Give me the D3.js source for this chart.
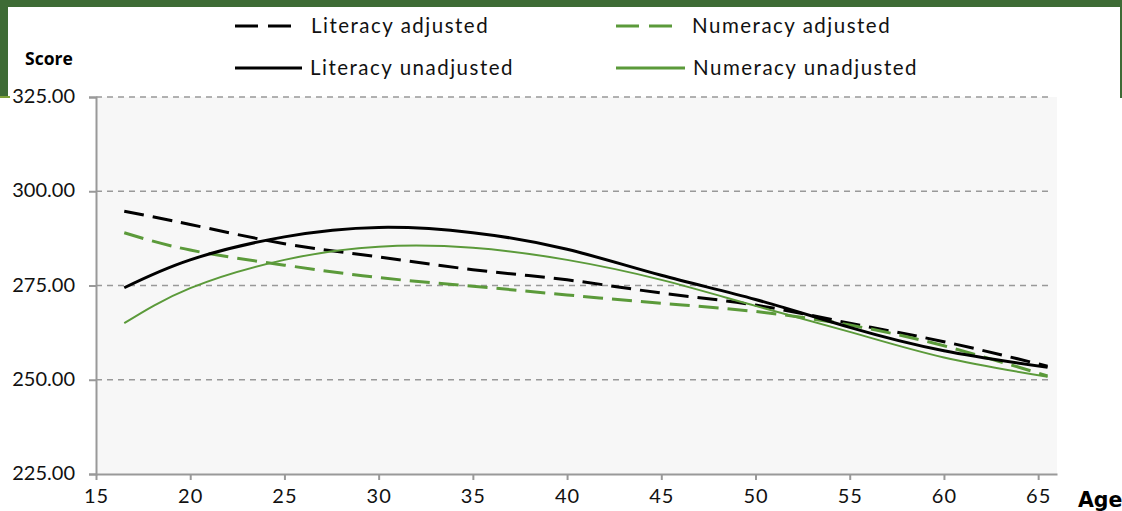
<!DOCTYPE html>
<html>
<head>
<meta charset="utf-8">
<script src="https://cdn.jsdelivr.net/npm/d3@7"></script>
<style>
  body { margin: 0; background: #fff; }
  svg { display: block; }
</style>
</head>
<body>
<svg id="chart" width="1122" height="511"></svg>
<script>
// ages as plotted (first / last point sit half a year inside the tick)
let ages = [16.5, 20, 25, 30, 35, 40, 45, 50, 55, 60, 65.5]

let literacyAdjusted   = [294.7, 291.2, 286.1, 282.6, 279.2, 276.5, 273.0, 269.8, 265.0, 260.1, 253.6]
let literacyUnadjusted = [274.4, 281.8, 287.9, 290.4, 289.0, 284.6, 277.7, 271.3, 263.9, 257.7, 253.3]
let numeracyAdjusted   = [289.0, 284.4, 280.4, 277.1, 274.8, 272.5, 270.3, 268.1, 264.5, 259.0, 251.0]
let numeracyUnadjusted = [265.0, 274.3, 281.8, 285.3, 285.0, 281.8, 276.5, 269.6, 262.7, 255.9, 250.8]

let xTicks = [15, 20, 25, 30, 35, 40, 45, 50, 55, 60, 65]
let yTicks = [225, 250, 275, 300, 325]

let seriesNames = ["Literacy adjusted", "Numeracy adjusted", "Literacy unadjusted", "Numeracy unadjusted"]

const GREEN = "#5b9a3a"
const FRAME = "#3e6b35"

let series = [
    {name: seriesNames[0], values: literacyAdjusted, color: "#000", width: 3, dash: "20,9"},
    {name: seriesNames[1], values: numeracyAdjusted, color: GREEN, width: 3, dash: "20,9"},
    {name: seriesNames[2], values: literacyUnadjusted, color: "#000", width: 3, dash: null},
    {name: seriesNames[3], values: numeracyUnadjusted, color: GREEN, width: 2, dash: null}
]

let svg = d3.select("#chart")

// frame bits at the top
svg.append("rect").attr("x", 0).attr("y", 0).attr("width", 1122).attr("height", 7).attr("fill", FRAME)
svg.append("rect").attr("x", 0).attr("y", 0).attr("width", 8).attr("height", 97).attr("fill", FRAME)
svg.append("rect").attr("x", 1120).attr("y", 0).attr("width", 2).attr("height", 98).attr("fill", FRAME)
svg.append("rect").attr("x", 0).attr("y", 96).attr("width", 10).attr("height", 2).attr("fill", "#7fa23a")

let plotLeft = 96, plotRight = 1057, plotTop = 97, plotBottom = 474

let x = d3.scaleLinear([15, 66], [plotLeft, plotRight])
let y = d3.scaleLinear([225, 325], [plotBottom, plotTop])

svg.append("rect")
    .attr("x", plotLeft).attr("y", plotTop)
    .attr("width", plotRight - plotLeft).attr("height", plotBottom - plotTop)
    .attr("fill", "#f7f7f7")

// gridlines
svg.selectAll(".grid")
    .data(yTicks.filter(d => d > 225))
    .enter()
    .append("line")
    .attr("x1", plotLeft).attr("x2", plotRight - 6)
    .attr("y1", d => y(d)).attr("y2", d => y(d))
    .attr("stroke", "#999")
    .attr("stroke-width", 1.5)
    .attr("stroke-dasharray", "6,5")

let tickFont = "Lato, 'Open Sans', sans-serif"

let yAxis = svg.append("g")
    .attr("transform", `translate(${plotLeft},0)`)
    .call(d3.axisLeft(y).tickValues(yTicks).tickSize(7).tickPadding(14).tickFormat(d3.format(".2f")))
yAxis.select(".domain").attr("stroke", "#999").attr("stroke-width", 2)
yAxis.selectAll(".tick line").attr("stroke", "#999").attr("stroke-width", 2)
yAxis.selectAll("text").attr("font-family", tickFont).attr("font-size", 20).attr("fill", "#111")
    .attr("dy", "0.28em")

let xAxis = svg.append("g")
    .attr("transform", `translate(0,${plotBottom})`)
    .call(d3.axisBottom(x).tickValues(xTicks).tickSize(6).tickPadding(9).tickSizeOuter(0))
xAxis.select(".domain").attr("stroke", "#999").attr("stroke-width", 2)
xAxis.selectAll(".tick line").attr("stroke", "#999").attr("stroke-width", 2)
xAxis.selectAll("text").attr("font-family", tickFont).attr("font-size", 20).attr("fill", "#111")
    .attr("letter-spacing", 1)

// lines
let line = d3.line()
    .x(d => x(d[0]))
    .y(d => y(d[1]))
    .curve(d3.curveNatural)

svg.selectAll(".series")
    .data(series)
    .enter()
    .append("path")
    .attr("d", s => line(ages.map((a, i) => [a, s.values[i]])))
    .attr("fill", "none")
    .attr("stroke", s => s.color)
    .attr("stroke-width", s => s.width)
    .attr("stroke-dasharray", s => s.dash)

// axis titles
svg.append("text").attr("x", 25).attr("y", 65).text("Score")
    .attr("font-family", "'Open Sans', sans-serif").attr("font-weight", "bold").attr("font-size", 17.5).attr("fill", "#000")
svg.append("text").attr("x", 1078).attr("y", 507).text("Age")
    .attr("font-family", "'DejaVu Sans', sans-serif").attr("font-weight", "bold").attr("font-size", 20.5).attr("fill", "#000")

// legend
let legendPos = [
    {x: 235, y: 26, sw: 58},
    {x: 616, y: 26, sw: 58},
    {x: 235, y: 68, sw: 67},
    {x: 616, y: 68, sw: 69}
]

let legend = svg.selectAll(".legend")
    .data(series)
    .enter()
    .append("g")
    .attr("transform", (s, i) => `translate(${legendPos[i].x},${legendPos[i].y})`)

legend.append("line")
    .attr("x1", 0).attr("x2", (s, i) => legendPos[i].sw)
    .attr("y1", 0).attr("y2", 0)
    .attr("stroke", s => s.color)
    .attr("stroke-width", 3)
    .attr("stroke-dasharray", s => s.dash ? "23,10" : null)

legend.append("text")
    .attr("x", (s, i) => i < 2 ? 76 : legendPos[i].sw + 8)
    .attr("y", 0)
    .attr("dy", "0.35em")
    .text(s => s.name)
    .attr("font-family", tickFont)
    .attr("font-size", 20.5)
    .attr("letter-spacing", 1.5)
    .attr("fill", "#111")
</script>
</body>
</html>
